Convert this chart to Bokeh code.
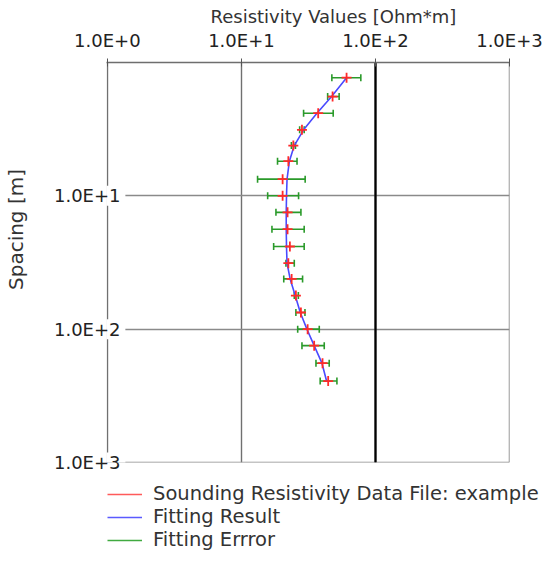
import numpy as np
from bokeh.plotting import figure
from bokeh.layouts import row, column
from bokeh.models import (Range1d, FixedTicker, CustomJSTickFormatter, Grid,
                          Legend, LegendItem, Label)
from bokeh.embed import file_html
from bokeh.resources import INLINE

# ---- data ----
spacing = [1.3, 1.8, 2.4, 3.2, 4.2, 5.5, 7.5, 10.0, 13.3, 17.8, 24.0, 32.0,
           42.0, 56.0, 75.0, 100.0, 133.0, 180.0, 245.0]
rho_data = [60.9, 47.9, 37.4, 28.3, 24.4, 22.4, 20.3, 20.3, 22.1, 22.1, 23.0,
            22.4, 23.7, 25.5, 27.8, 31.2, 34.9, 40.3, 44.4]
rho_fit = [60.9, 47.1, 36.6, 29.1, 24.8, 22.8, 21.9, 21.7, 21.6, 21.6, 21.7,
           21.9, 23.1, 25.2, 27.5, 30.8, 34.9, 39.9, 43.2]
err_lo = [47.3, 44.0, 29.1, 27.2, 23.6, 18.6, 13.2, 15.7, 18.1, 16.9, 17.4,
          21.5, 20.7, 24.8, 25.5, 26.3, 28.3, 36.0, 38.7]
err_hi = [77.8, 53.6, 48.4, 29.4, 25.3, 26.0, 29.9, 26.7, 27.8, 29.4, 29.4,
          24.8, 28.6, 26.6, 29.8, 38.1, 41.5, 45.2, 51.6]
x_ticks = [1, 10, 100, 1000]
y_ticks = [10, 100, 1000]
emph_x = [100]
labels = ["Sounding Resistivity Data File: example", "Fitting Result", "Fitting Errror"]

FONT = "DejaVu Sans"
RED, BLUE, GREEN = "#ff2a2a", "#4a4aff", "#2a9a2a"
LBL_W = 30          # width of the strip holding the y caption

# ---------------- main plot ----------------
p = figure(width=547 - LBL_W, height=472, x_axis_type="log", y_axis_type="log",
           x_range=Range1d(0.985, 1000.6), y_range=Range1d(1000.6, 1),
           x_axis_location="above", output_backend="svg", toolbar_location=None,
           min_border_left=106 - LBL_W, min_border_right=38, min_border_top=62,
           min_border_bottom=10)
p.outline_line_color = None
p.background_fill_color = "white"

p.title.text = "Resistivity Values [Ohm*m]"
p.title.align = "left"
p.title.offset = 104
p.title.standoff = 0
p.title.text_font = FONT
p.title.text_font_size = "18px"
p.title.text_font_style = "normal"
p.title.text_color = "#333333"

fmt = CustomJSTickFormatter(code="return '1.0E+' + Math.round(Math.log10(tick)).toString();")

xa = p.xaxis[0]
xa.ticker = FixedTicker(ticks=x_ticks, minor_ticks=[])
xa.formatter = fmt
xa.major_tick_in = 4
xa.major_tick_out = 4
xa.major_tick_line_color = "#555555"
xa.axis_line_color = "#6e6e6e"
xa.axis_line_width = 1.5
xa.major_label_standoff = 8
xa.major_label_text_font = FONT
xa.major_label_text_font_size = "18px"
xa.major_label_text_color = "#222222"

ya = p.yaxis[0]
ya.ticker = FixedTicker(ticks=y_ticks, minor_ticks=[])
ya.formatter = fmt
ya.major_tick_in = 0
ya.major_tick_out = 0
ya.axis_line_color = None
ya.major_label_standoff = -14
ya.major_label_text_font = FONT
ya.major_label_text_font_size = "18px"
ya.major_label_text_color = "#222222"

p.xgrid.ticker = FixedTicker(ticks=x_ticks, minor_ticks=[])
p.ygrid.ticker = FixedTicker(ticks=y_ticks, minor_ticks=[])
p.xgrid.grid_line_color = "#707070"
p.ygrid.grid_line_color = "#8a8a8a"
p.xgrid.grid_line_width = 1.4
p.ygrid.grid_line_width = 1.6
p.add_layout(Grid(dimension=0, ticker=FixedTicker(ticks=emph_x, minor_ticks=[]),
                  grid_line_color="black", grid_line_width=2.3))

# white patches so the y tick labels interrupt the left frame line
p.rect(x=[x_ticks[0]] * len(y_ticks), y=y_ticks, width=36, height=20,
       width_units="screen", height_units="screen", fill_color="white",
       line_color=None)

# error bars
p.segment(x0=err_lo, y0=spacing, x1=err_hi, y1=spacing,
          line_color=GREEN, line_width=1.6)
p.scatter(x=err_lo + err_hi, y=spacing + spacing, marker="dash", angle=np.pi / 2,
          size=7, line_color=GREEN, line_width=1.6)

# fit line
p.line(x=rho_fit, y=spacing, line_color=BLUE, line_width=1.6)

# data markers
p.scatter(x=rho_data, y=spacing, marker="cross", size=10, line_color=RED,
          line_width=1.8)

# ---------------- y caption strip ----------------
lab = figure(width=LBL_W, height=472, output_backend="svg", toolbar_location=None,
             x_axis_location=None, y_axis_location=None, min_border_left=0,
             min_border_right=0, min_border_top=62, min_border_bottom=10,
             x_range=Range1d(0, 1), y_range=Range1d(0, 1))
lab.outline_line_color = None
lab.grid.visible = False
lab.add_layout(Label(x=15, y=462 - 229, x_units="screen", y_units="screen",
                     text="Spacing [m]", angle=np.pi / 2, text_align="center",
                     text_baseline="middle", text_font=FONT, text_font_size="20px",
                     text_color="#333333"))

# ---------------- legend strip ----------------
leg = figure(width=547, height=81, output_backend="svg",
             toolbar_location=None, x_axis_location=None, y_axis_location=None,
             min_border=0, x_range=Range1d(0, 1), y_range=Range1d(0, 1))
leg.outline_line_color = None
leg.grid.visible = False
# proxies for the legend swatches (their data lie outside this strip's range)
r1 = leg.line(x=rho_data, y=spacing, line_color="#ff5a5a", line_width=1.5)
r2 = leg.line(x=rho_fit, y=spacing, line_color="#5a5aff", line_width=1.5)
r3 = leg.line(x=err_hi, y=spacing, line_color="#40aa40", line_width=1.5)
legend = Legend(items=[LegendItem(label=labels[0], renderers=[r1]),
                       LegendItem(label=labels[1], renderers=[r2]),
                       LegendItem(label=labels[2], renderers=[r3])],
                location=(107, 2), margin=0, padding=0,
                border_line_color=None, background_fill_alpha=0,
                label_text_font=FONT, label_text_font_size="19.5px",
                label_text_color="#333333", glyph_width=35, glyph_height=20,
                label_height=20, label_standoff=11, spacing=0)
leg.add_layout(legend)

layout = column(row(lab, p), leg)
open("out.html", "w").write(file_html(layout, INLINE))
